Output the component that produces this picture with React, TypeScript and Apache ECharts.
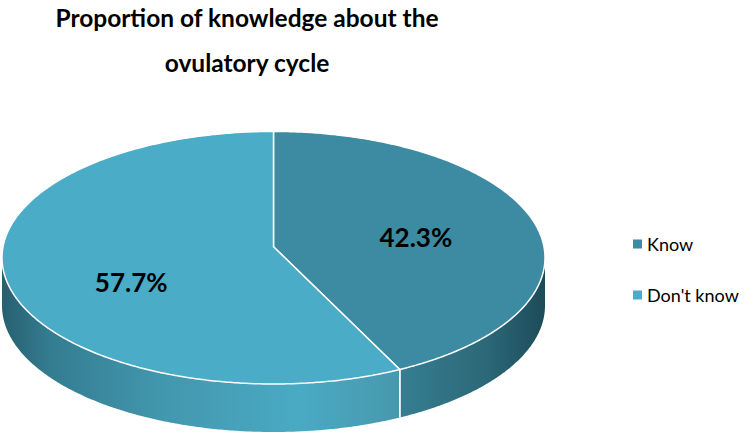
import React, { useEffect, useRef } from "react";
import * as echarts from "echarts";

const categories = ["Know", "Don't know"];
const values = [42.3, 57.7];
const titleLines = ["Proportion of knowledge about the", "ovulatory cycle"];

const TOP_COLORS = ["#3d8ba2", "#4aacc6"];
const SIDE_STOPS: [number, string][][] = [
  [[0, "#367e92"], [0.6, "#2b6878"], [1, "#1d4b58"]],
  [[0, "#27606f"], [0.12, "#347c90"], [0.4, "#4297ae"], [0.75, "#4aaac4"], [1, "#4798ae"]],
];

const CX = 273.5;
const CY = 257.7;
const RX = 271.5;
const RY = 126.3;
const DEPTH = 48;
const APEX_DY = -11;
const LABEL_RX = 0.54;
const LABEL_RY = 0.74;
const FONT = "Lato, 'Open Sans', sans-serif";

function pt(deg: number, dy = 0): [number, number] {
  const r = (deg * Math.PI) / 180;
  return [CX + RX * Math.sin(r), CY - RY * Math.cos(r) + dy];
}

function arc(a0: number, a1: number, dy = 0): [number, number][] {
  const out: [number, number][] = [];
  const n = Math.max(2, Math.ceil(Math.abs(a1 - a0) / 0.5));
  for (let k = 0; k <= n; k++) out.push(pt(a0 + ((a1 - a0) * k) / n, dy));
  return out;
}

function makeRenderItem(idx: number) {
  return (_params: any, api: any) => {
    const total = values.reduce((s, v) => s + v, 0);
    let before = 0;
    for (let k = 0; k < idx; k++) before += values[k];
    const v = api.value(0);
    const a0 = (before / total) * 360;
    const a1 = ((before + v) / total) * 360;
    const children: any[] = [];

    const s0 = Math.max(a0, 90);
    const s1 = Math.min(a1, 270);
    if (s0 < s1) {
      const topArc = arc(s0, s1);
      const botArc = arc(s1, s0, DEPTH);
      const xs = topArc.map((p) => p[0]);
      const xmin = Math.min(...xs);
      const xmax = Math.max(...xs);
      children.push({
        type: "polygon",
        shape: { points: topArc.concat(botArc) },
        style: {
          fill: new echarts.graphic.LinearGradient(
            xmin, 0, xmax, 0,
            SIDE_STOPS[idx].map(([o, c]) => ({ offset: o, color: c })),
            true
          ),
          stroke: null,
        },
      });
      [a0, a1].forEach((a) => {
        if (a > 90 && a < 270) {
          const p = pt(a);
          children.push({
            type: "line",
            shape: { x1: p[0], y1: p[1], x2: p[0], y2: p[1] + DEPTH },
            style: { stroke: "#ffffff", lineWidth: 1.5 },
          });
        }
      });
    }

    const apex: [number, number] = [CX, CY + APEX_DY];
    children.push({
      type: "polygon",
      shape: { points: [apex as [number, number]].concat(arc(a0, a1)) },
      style: { fill: TOP_COLORS[idx], stroke: "#ffffff", lineWidth: 1.5, lineJoin: "round" },
    });

    const mid = (a0 + a1) / 2;
    const lp = pt(mid);
    children.push({
      type: "text",
      x: CX + (lp[0] - CX) * LABEL_RX,
      y: CY + 2 + (lp[1] - CY) * LABEL_RY,
      style: {
        text: ((v / total) * 100).toFixed(1) + "%",
        fontFamily: FONT,
        fontWeight: "bold",
        fontSize: 26,
        fill: "#000000",
        align: "center",
        verticalAlign: "middle",
      },
    });

    return { type: "group", children };
  };
}

export default function App() {
  const ref = useRef<HTMLDivElement>(null);
  useEffect(() => {
    if (!ref.current) return;
    const chart = echarts.init(ref.current, undefined, { renderer: "svg" });
    chart.setOption({
      animation: false,
      backgroundColor: "#ffffff",
      title: {
        text: titleLines.join("\n"),
        left: 247,
        top: -5,
        padding: 0,
        textAlign: "center",
        textStyle: {
          fontFamily: FONT,
          fontWeight: "bold",
          fontSize: 24.5,
          lineHeight: 45,
          color: "#000000",
        },
      },
      legend: {
        data: categories,
        orient: "vertical",
        left: 633,
        top: 234,
        padding: 0,
        itemWidth: 9,
        itemHeight: 9,
        itemGap: 31,
        icon: "rect",
        textStyle: { fontFamily: FONT, fontSize: 18, color: "#000000", lineHeight: 20 },
      },
      series: categories.map((name, i) => ({
        type: "custom",
        name,
        coordinateSystem: "none",
        itemStyle: { color: TOP_COLORS[i] },
        data: [values[i]],
        renderItem: makeRenderItem(i),
      })),
    });
    return () => chart.dispose();
  }, []);
  return <div ref={ref} style={{ width: 744, height: 435, position: "absolute", left: 0, top: 0 }} />;
}
